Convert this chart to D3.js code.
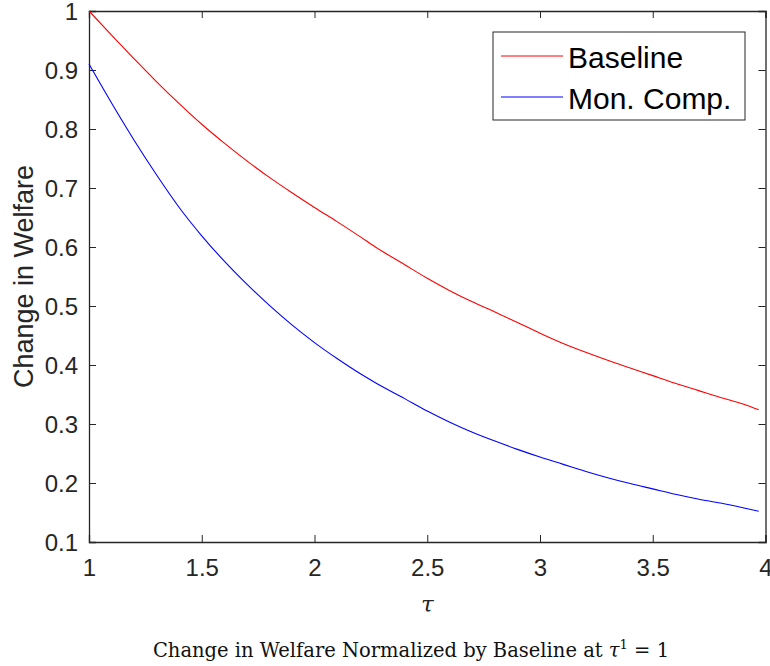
<!DOCTYPE html>
<html><head><meta charset="utf-8">
<script src="https://cdn.jsdelivr.net/npm/d3@7"></script>
<style>body{margin:0;background:#fff}svg{display:block}</style>
</head><body>
<script>
const tau = [1.0,1.1,1.2,1.3,1.4,1.5,1.6,1.7,1.8,1.9,2.0,2.1,2.2,2.27,2.4,2.5,2.6,2.7,2.8,2.9,3.0,3.1,3.2,3.3,3.4,3.5,3.6,3.7,3.8,3.9,3.97];
const baseline = [1.000,0.959,0.919,0.880,0.843,0.808,0.776,0.746,0.718,0.692,0.667,0.643,0.618,0.600,0.570,0.547,0.526,0.507,0.490,0.472,0.454,0.437,0.422,0.408,0.395,0.382,0.369,0.357,0.345,0.334,0.324];
const monComp  = [0.910,0.844,0.781,0.722,0.667,0.619,0.576,0.537,0.501,0.468,0.438,0.411,0.386,0.370,0.343,0.322,0.303,0.286,0.271,0.257,0.244,0.232,0.220,0.209,0.199,0.190,0.181,0.173,0.166,0.158,0.152];
const xTicks = [1,1.5,2,2.5,3,3.5,4];
const yTicks = [0.1,0.2,0.3,0.4,0.5,0.6,0.7,0.8,0.9,1];
const seriesNames = ["Baseline","Mon. Comp."];
const seriesColors = ["#ff0000","#0000ff"];

const W=770,H=666;
const svg=d3.select("body").append("svg").attr("width",W).attr("height",H);
const L=89,R=765.5,T=11,B=542;
const x=d3.scaleLinear().domain([1,4]).range([L,R]);
const y=d3.scaleLinear().domain([0.1,1]).range([B,T]);
const axCol="#262626";
const font="'Liberation Sans', Arial, sans-serif";

const tl=7;
const gB=svg.append("g").attr("transform",`translate(0,${B})`)
  .call(d3.axisBottom(x).tickValues(xTicks).tickSize(-tl).tickFormat(d3.format("")));
const gT=svg.append("g").attr("transform",`translate(0,${T})`)
  .call(d3.axisTop(x).tickValues(xTicks).tickSize(-tl).tickFormat(""));
const gL=svg.append("g").attr("transform",`translate(${L},0)`)
  .call(d3.axisLeft(y).tickValues(yTicks).tickSize(-tl).tickFormat(d3.format("")));
const gR=svg.append("g").attr("transform",`translate(${R},0)`)
  .call(d3.axisRight(y).tickValues(yTicks).tickSize(-tl).tickFormat(""));
[gB,gT,gL,gR].forEach(g=>{
  g.select(".domain").attr("stroke",axCol).attr("stroke-width",1.3);
  g.selectAll(".tick line").attr("stroke",axCol).attr("stroke-width",1);
  g.selectAll("text").attr("fill",axCol).style("font-family",font).style("font-size","24px");
});
gB.selectAll("text").attr("dy","0.71em").attr("y",17);
gL.selectAll("text").attr("x",-11).attr("dy","0.35em");

const line=d3.line().x((d,i)=>x(tau[i])).y(d=>y(d)).curve(d3.curveMonotoneX);
[baseline,monComp].forEach((s,k)=>{
  svg.append("path").datum(s).attr("d",line).attr("fill","none")
    .attr("stroke",seriesColors[k]).attr("stroke-width",1.1);
});

svg.append("text").attr("transform",`translate(33,${(T+B)/2}) rotate(-90)`)
  .attr("text-anchor","middle").attr("fill",axCol)
  .style("font-family",font).style("font-size","27px").text("Change in Welfare");
svg.append("text").attr("x",(L+R)/2).attr("y",612).attr("text-anchor","middle")
  .style("font-family","'DejaVu Serif', serif").style("font-style","italic").style("font-size","23px").attr("fill",axCol).text("τ");

const cap=svg.append("text").attr("x",411).attr("y",657).attr("text-anchor","middle")
  .style("font-family","'DejaVu Serif', serif").style("font-size","19.5px").attr("fill","#111");
cap.append("tspan").text("Change in Welfare Normalized by Baseline at ");
cap.append("tspan").style("font-style","italic").text("τ");
cap.append("tspan").attr("dy",-8).style("font-size","13px").text("1");
cap.append("tspan").attr("dy",8).text(" = 1");

const lg=svg.append("g");
lg.append("rect").attr("x",493).attr("y",32).attr("width",252).attr("height",88)
  .attr("fill","#fff").attr("stroke",axCol).attr("stroke-width",1);
seriesNames.forEach((n,k)=>{
  const yy=[56,97][k];
  lg.append("line").attr("x1",501).attr("x2",563).attr("y1",yy).attr("y2",yy)
    .attr("stroke",seriesColors[k]).attr("stroke-width",1);
  lg.append("text").attr("x",568).attr("y",yy+12).style("font-family",font).style("font-size","30px")
    .attr("fill","#000").text(n);
});
</script>
</body></html>
